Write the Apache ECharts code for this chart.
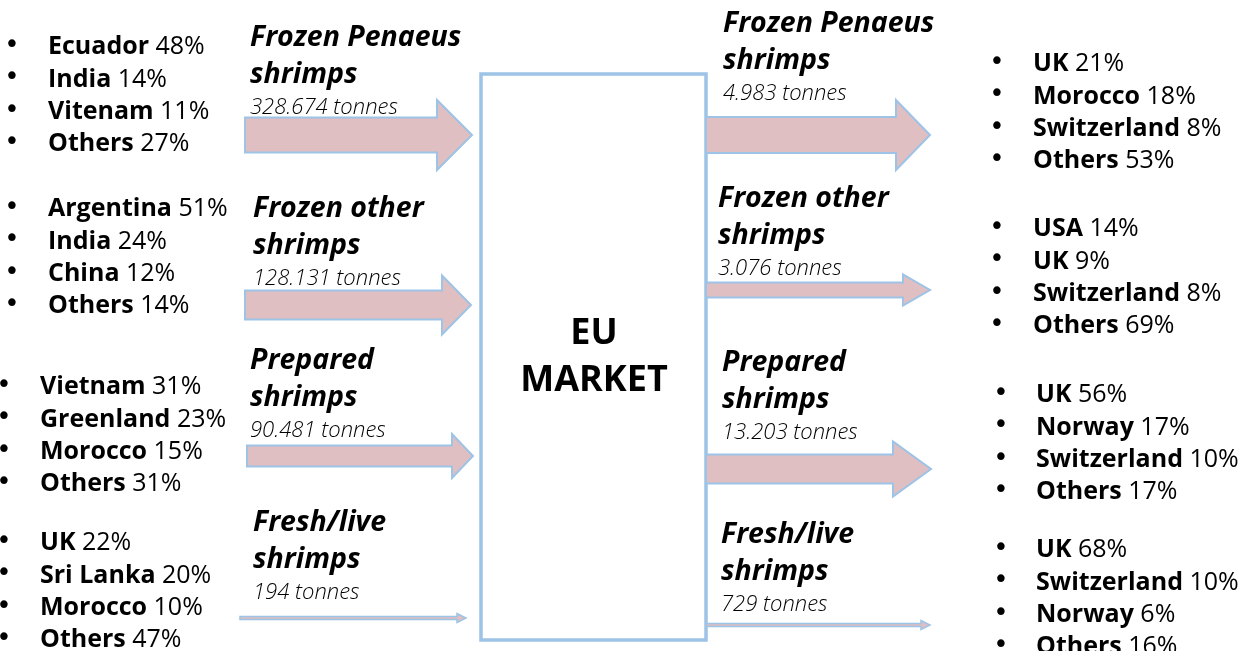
<!DOCTYPE html>
<html>
<head>
<meta charset="utf-8">
<script src="https://cdn.jsdelivr.net/npm/echarts@6/dist/echarts.min.js"></script>
<style>
  html, body { margin: 0; padding: 0; background: #fff; }
  #chart { width: 1253px; height: 651px; }
</style>
</head>
<body>
<div id="chart"></div>
<script>
// ---- data ----
const productNames = [
  ['Frozen Penaeus', 'shrimps'],
  ['Frozen other', 'shrimps'],
  ['Prepared', 'shrimps'],
  ['Fresh/live', 'shrimps']
]
const importTonnes = [328674, 128131, 90481, 194]
const exportTonnes = [4983, 3076, 13203, 729]

const importCountries = [
  ['Ecuador', 'India', 'Vitenam', 'Others'],
  ['Argentina', 'India', 'China', 'Others'],
  ['Vietnam', 'Greenland', 'Morocco', 'Others'],
  ['UK', 'Sri Lanka', 'Morocco', 'Others']
]
const importShares = [[48, 14, 11, 27], [51, 24, 12, 14], [31, 23, 15, 31], [22, 20, 10, 47]]

const exportCountries = [
  ['UK', 'Morocco', 'Switzerland', 'Others'],
  ['USA', 'UK', 'Switzerland', 'Others'],
  ['UK', 'Norway', 'Switzerland', 'Others'],
  ['UK', 'Switzerland', 'Norway', 'Others']
]
const exportShares = [[21, 18, 8, 53], [14, 9, 8, 69], [56, 17, 10, 17], [68, 10, 6, 16]]

const centreLabel = ['EU', 'MARKET']

// ---- layout (hidden axes are in page pixels) ----
const inArrows = [
  { x0: 245, x1: 472, y: 135, shaft: 35, head: 70, headLen: 35 },
  { x0: 245, x1: 471, y: 305, shaft: 29, head: 59, headLen: 29 },
  { x0: 247, x1: 473, y: 456, shaft: 21, head: 44, headLen: 21 },
  { x0: 240, x1: 466, y: 618, shaft: 3, head: 9, headLen: 9 }
]
const outArrows = [
  { x0: 706, x1: 930, y: 135, shaft: 36, head: 70, headLen: 34 },
  { x0: 706, x1: 930, y: 290, shaft: 15, head: 31, headLen: 27 },
  { x0: 706, x1: 931, y: 469, shaft: 29, head: 55, headLen: 38 },
  { x0: 706, x1: 930, y: 625, shaft: 3, head: 9, headLen: 9 }
]
const inTitles = [{ x: 250, y: 38 }, { x: 253, y: 209 }, { x: 250, y: 361 }, { x: 253, y: 523 }]
const outTitles = [{ x: 723, y: 24 }, { x: 718, y: 199 }, { x: 722, y: 363 }, { x: 721, y: 535 }]
const inLists = [{ b: 12, x: 48, y: 47 }, { b: 12, x: 48, y: 209 }, { b: 4, x: 40, y: 387 }, { b: 4, x: 40, y: 543 }]
const outLists = [{ b: 997, x: 1033, y: 64 }, { b: 997, x: 1033, y: 229 }, { b: 1001, x: 1036, y: 395 }, { b: 1001, x: 1036, y: 550 }]
const box = { x0: 481, y0: 74, x1: 706, y1: 640 }

const FONT = '"Open Sans", sans-serif'
const LINE = 32.4

const fmtTonnes = v => v.toLocaleString('de-DE') + ' tonnes'

// build text items
const textItems = []
const addTitle = (pos, i, tonnes) => {
  textItems.push({ x: pos.x, y: pos.y, text: productNames[i][0], kind: 'title' })
  textItems.push({ x: pos.x, y: pos.y + 37, text: productNames[i][1], kind: 'title' })
  textItems.push({ x: pos.x, y: pos.y + 70, text: fmtTonnes(tonnes), kind: 'tonnes' })
}
const addList = (pos, names, shares) => {
  names.forEach((n, k) => {
    textItems.push({ x: pos.b, y: pos.y + k * LINE - 1, text: '•', kind: 'bullet', align: 'center' })
    textItems.push({ x: pos.x, y: pos.y + k * LINE, text: '{b|' + n + '} {n|' + shares[k] + '%}', kind: 'list' })
  })
}
importTonnes.forEach((t, i) => {
  addTitle(inTitles[i], i, t)
  addList(inLists[i], importCountries[i], importShares[i])
})
exportTonnes.forEach((t, i) => {
  addTitle(outTitles[i], i, t)
  addList(outLists[i], exportCountries[i], exportShares[i])
})
textItems.push({ x: 594, y: 334, text: centreLabel[0], kind: 'centre', align: 'center' })
textItems.push({ x: 594, y: 381, text: centreLabel[1], kind: 'centre', align: 'center' })

const textStyles = {
  title: { fontSize: 28.5, fontWeight: 'bold', fontStyle: 'italic' },
  tonnes: { fontSize: 22, fontWeight: 300, fontStyle: 'italic' },
  bullet: { fontSize: 26, fontWeight: 'normal', family: '"DejaVu Sans", sans-serif' },
  list: { fontSize: 25, fontWeight: 'normal' },
  centre: { fontSize: 36, fontWeight: 'bold' }
}

const arrowData = []
importTonnes.forEach((t, i) => {
  const a = inArrows[i]
  arrowData.push([a.x0, a.x1, a.y, a.shaft, a.head, a.headLen, t])
})
exportTonnes.forEach((t, i) => {
  const a = outArrows[i]
  arrowData.push([a.x0, a.x1, a.y, a.shaft, a.head, a.headLen, t])
})

const chart = echarts.init(document.getElementById('chart'))

const option = {
  animation: false,
  grid: { left: 0, right: 0, top: 0, bottom: 0 },
  xAxis: { type: 'value', min: 0, max: 1253, show: false },
  yAxis: { type: 'value', min: 0, max: 651, inverse: true, show: false },
  series: [
    {
      // EU market box
      type: 'custom',
      data: [[box.x0, box.y0, box.x1, box.y1]],
      z: 1,
      renderItem: (params, api) => {
        const p0 = api.coord([api.value(0), api.value(1)])
        const p1 = api.coord([api.value(2), api.value(3)])
        return {
          type: 'rect',
          shape: { x: p0[0], y: p0[1], width: p1[0] - p0[0], height: p1[1] - p0[1] },
          style: { fill: '#fff', stroke: '#9dc3e6', lineWidth: 3.5 }
        }
      }
    },
    {
      // flow arrows
      type: 'custom',
      data: arrowData,
      z: 2,
      renderItem: (params, api) => {
        const p0 = api.coord([api.value(0), api.value(2)])
        const p1 = api.coord([api.value(1), api.value(2)])
        const s = api.value(3) / 2
        const h = api.value(4) / 2
        const xb = p1[0] - api.value(5)
        const y = p0[1]
        return {
          type: 'polygon',
          shape: {
            points: [
              [p0[0], y - s], [xb, y - s], [xb, y - h], [p1[0], y],
              [xb, y + h], [xb, y + s], [p0[0], y + s]
            ]
          },
          style: { fill: '#dfbfc2', stroke: '#9dc3e6', lineWidth: s < 3 ? 1.5 : 2 }
        }
      }
    },
    {
      // all labels
      type: 'custom',
      data: textItems.map(t => [t.x, t.y]),
      z: 3,
      renderItem: (params, api) => {
        const t = textItems[params.dataIndex]
        const p = api.coord([api.value(0), api.value(1)])
        const st = textStyles[t.kind]
        return {
          type: 'text',
          x: p[0],
          y: p[1],
          style: {
            text: t.text,
            fontFamily: st.family || FONT,
            fontSize: st.fontSize,
            fontWeight: st.fontWeight,
            fontStyle: st.fontStyle || 'normal',
            fill: '#000',
            align: t.align || 'left',
            verticalAlign: 'middle',
            rich: {
              b: { fontFamily: FONT, fontSize: 25, fontWeight: 'bold', fill: '#000' },
              n: { fontFamily: FONT, fontSize: 25, fontWeight: 'normal', fill: '#000' }
            }
          }
        }
      }
    }
  ]
}

chart.setOption(option)
window.addEventListener('resize', () => chart.resize())
</script>
</body>
</html>
